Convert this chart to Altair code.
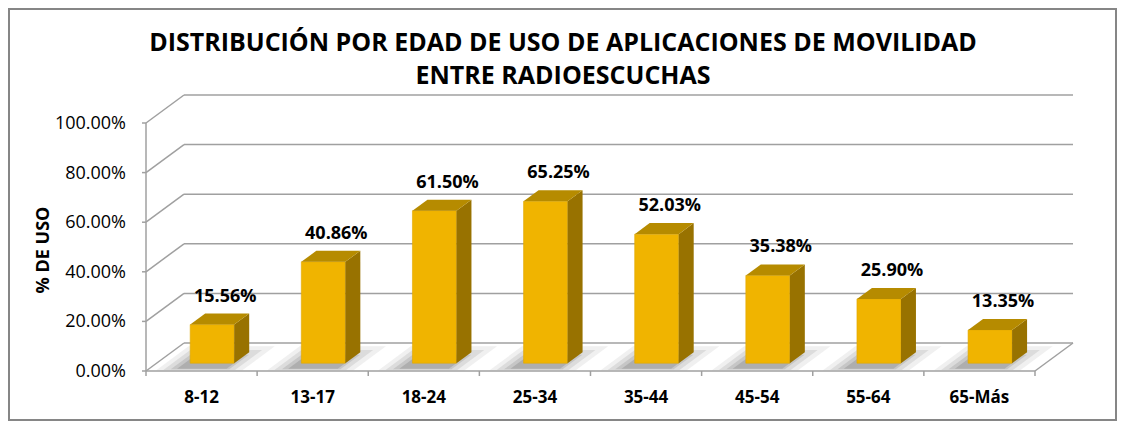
import altair as alt
import pandas as pd

# ---- data ----
categories = ["8-12", "13-17", "18-24", "25-34", "35-44", "45-54", "55-64", "65-Más"]
values = [15.56, 40.86, 61.50, 65.25, 52.03, 35.38, 25.90, 13.35]
y_ticks = [0, 20, 40, 60, 80, 100]
title_lines = ["DISTRIBUCIÓN POR EDAD DE USO DE APLICACIONES DE MOVILIDAD",
               "ENTRE RADIOESCUCHAS"]
y_title = "% DE USO"

# ---- 3D geometry / style constants ----
N = len(categories)
DX, DY = 0.342, 11.29      # wall depth (category units, percent units)
BW = 0.396                 # bar width
F0 = 0.28                  # bar depth position (fraction of wall depth)
SDX, SDY = 0.135, 4.44     # bar depth
W, H = 927, 276
FRONT, TOP, SIDE = "#F0B400", "#B68B00", "#987200"
GRID = "#A0A0A0"
FONT = "Open Sans"
OFF_X = F0 * DX
OFF_Y = F0 * DY

bars = pd.DataFrame({"cat": categories, "v": values, "i": list(range(N))})
corners = bars.merge(pd.DataFrame({"k": [0, 1]}), how="cross")
grid = pd.DataFrame({"t": y_ticks})
bounds = pd.DataFrame({"b": list(range(N + 1))})
one = pd.DataFrame({"a": [0]})
titles = pd.DataFrame({"line": title_lines, "n": [0, 1]})

xs = alt.Scale(domain=[0, N + DX], nice=False, zero=False)
ys = alt.Scale(domain=[0, 100 + DY], nice=False, zero=False)


def QX(f, **kw):
    return alt.X(f, type="quantitative", scale=xs, axis=None, **kw)


def QY(f, **kw):
    return alt.Y(f, type="quantitative", scale=ys, axis=None, **kw)


rule_style = dict(color=GRID, strokeWidth=1.5)

frame = alt.Chart(one).mark_rect(fillOpacity=0, stroke="#868686", strokeWidth=2).encode(
    x=alt.value(-137), x2=alt.value(W + 43), y=alt.value(-86), y2=alt.value(H + 49))

title_txt = alt.Chart(titles).transform_calculate(
    ty="datum.n * 33 - 44"
).mark_text(font=FONT, fontSize=25, fontWeight="bold", color="black",
            baseline="alphabetic", align="center").encode(
    x=alt.value(417), y=alt.Y("ty:Q", scale=None), text="line:N")

back = alt.Chart(grid).transform_calculate(
    gxa=f"{DX}", gxb=f"{N + DX}", gy=f"datum.t + {DY}"
).mark_rule(**rule_style).encode(x=QX("gxa"), x2="gxb:Q", y=QY("gy"))

left = alt.Chart(grid).transform_calculate(
    gxa="0", gxb=f"{DX}", gya="datum.t", gyb=f"datum.t + {DY}"
).mark_rule(**rule_style).encode(x=QX("gxa"), x2="gxb:Q", y=QY("gya"), y2="gyb:Q")

floor_r = alt.Chart(one).transform_calculate(
    gxa=f"{N}", gxb=f"{N + DX}", gya="0", gyb=f"{DY}"
).mark_rule(**rule_style).encode(x=QX("gxa"), x2="gxb:Q", y=QY("gya"), y2="gyb:Q")

front_line = alt.Chart(one).transform_calculate(
    gxa="0", gxb=f"{N}", gya="0"
).mark_rule(**rule_style).encode(x=QX("gxa"), x2="gxb:Q", y=QY("gya"))

v_line = alt.Chart(one).transform_calculate(
    gxa="0", gya="0", gyb="100"
).mark_rule(**rule_style).encode(x=QX("gxa"), y=QY("gya"), y2="gyb:Q")

x_ticks = alt.Chart(bounds).mark_rule(**rule_style).encode(
    x=QX("b"), y=alt.value(H), y2=alt.value(H + 5))

y_tick_marks = alt.Chart(grid).mark_rule(**rule_style).encode(
    x=alt.value(-4), x2=alt.value(0), y=QY("t"))

y_labels = alt.Chart(grid).transform_calculate(
    lab="format(datum.t / 100, '.2%')"
).mark_text(font=FONT, fontSize=18, color="black", align="right",
            baseline="middle", dy=1).encode(x=alt.value(-20), y=QY("t"), text="lab:N")

y_title_txt = alt.Chart(pd.DataFrame({"tt": [y_title]})).mark_text(
    font=FONT, fontSize=18, fontWeight="bold", color="black", angle=270,
    align="center", baseline="middle").encode(
    x=alt.value(-102), y=alt.value(155), text="tt:N")


def shadow(lo, hi, el, er, op):
    return alt.Chart(corners).transform_calculate(
        ff=f"{lo} + datum.k * {hi - lo}"
    ).transform_calculate(
        sy=f"datum.ff * {DY}",
        sxa=f"datum.i + 0.5 - {BW / 2} - {el} + datum.ff * {DX}",
        sxb=f"datum.i + 0.5 + {BW / 2} + {er} + datum.ff * {DX}",
    ).mark_area(orient="horizontal", color="#404040", opacity=op).encode(
        y=QY("sy"), x=QX("sxa"), x2="sxb:Q", detail="cat:N")


shadows = [shadow(0.02, 0.88, 0.22, 0.16, 0.08),
           shadow(0.04, 0.75, 0.16, 0.09, 0.11),
           shadow(0.06, 0.58, 0.10, 0.03, 0.14),
           shadow(0.08, 0.42, 0.05, 0.00, 0.18)]

front = alt.Chart(bars).transform_calculate(
    bl=f"datum.i + 0.5 + {OFF_X} - {BW / 2}",
    br=f"datum.i + 0.5 + {OFF_X} + {BW / 2}",
    by0=f"{OFF_Y}", by1=f"{OFF_Y} + datum.v"
).mark_rect(color=FRONT, stroke="#E0A800", strokeWidth=0.6).encode(
    x=QX("bl"), x2="br:Q", y=QY("by0"), y2="by1:Q")

side = alt.Chart(corners).transform_calculate(
    px=f"datum.i + 0.5 + {OFF_X} + {BW / 2} + datum.k * {SDX}",
    pya=f"{OFF_Y} + datum.v + datum.k * {SDY}",
    pyb=f"{OFF_Y} + datum.k * {SDY}"
).mark_area(orient="vertical", color=SIDE).encode(
    x=QX("px"), y=QY("pya"), y2="pyb:Q", detail="cat:N")

top = alt.Chart(corners).transform_calculate(
    qy=f"{OFF_Y} + datum.v + datum.k * {SDY}",
    qxa=f"datum.i + 0.5 + {OFF_X} - {BW / 2} + datum.k * {SDX}",
    qxb=f"datum.i + 0.5 + {OFF_X} + {BW / 2} + datum.k * {SDX}"
).mark_area(orient="horizontal", color=TOP).encode(
    y=QY("qy"), x=QX("qxa"), x2="qxb:Q", detail="cat:N")

labels = alt.Chart(bars).transform_calculate(
    lx=f"datum.i + 0.5 + {OFF_X} + 0.117",
    ly=f"{OFF_Y} + datum.v + {SDY}",
    txt="format(datum.v / 100, '.2%')"
).mark_text(font=FONT, fontSize=18, fontWeight="bold", color="black",
            baseline="alphabetic", dy=-12).encode(x=QX("lx"), y=QY("ly"), text="txt:N")

cat_labels = alt.Chart(bars).transform_calculate(
    cx="datum.i + 0.5"
).mark_text(font=FONT, fontSize=17, fontWeight="bold", color="black",
            baseline="middle").encode(x=QX("cx"), y=alt.value(H + 27), text="cat:N")

chart = alt.layer(
    frame, title_txt, back, left, floor_r, *shadows, front_line, x_ticks, v_line,
    y_tick_marks, y_labels, y_title_txt, front, side, top, labels, cat_labels
).properties(
    width=W, height=H,
    padding={"left": 138, "top": 87, "right": 44, "bottom": 50},
    autosize=alt.AutoSizeParams(type="none"),
    background="white",
).configure_view(strokeWidth=0)

chart.save("out.html", embed_options={"renderer": "svg", "actions": False})
